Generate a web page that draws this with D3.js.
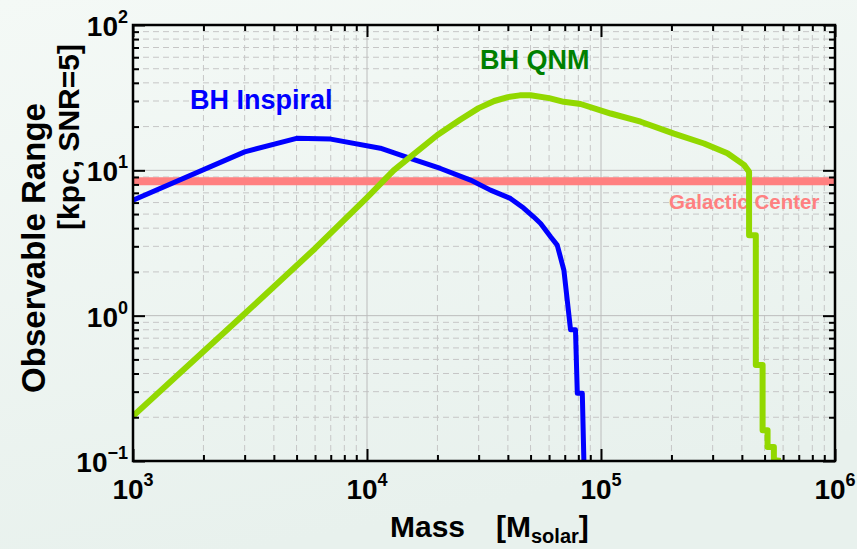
<!DOCTYPE html>
<html>
<head>
<meta charset="utf-8">
<script src="https://cdn.jsdelivr.net/npm/d3@7"></script>
<style>
    body { margin: 0; background: #eef5f1; }
    svg text { font-family: "Liberation Sans", Arial, sans-serif; font-weight: bold; }
</style>
</head>
<body>
<div id="chart"></div>
<script>
// BH inspiral range vs. mass
const inspiralMass  = [1000, 3000, 5000, 7000, 11400, 15300, 20600, 27700, 33700, 41000, 46700,
                       51500, 55200, 60900, 65000, 69400, 74100, 77800, 79200, 83200, 84500];
const inspiralRange = [6.24, 13.4, 16.6, 16.4, 14.2, 12.1, 10.3, 8.57, 7.31, 6.41, 5.50,
                       4.79, 4.31, 3.49, 3.06, 2.06, 0.80, 0.80, 0.292, 0.292, 0.1];

// BH quasi-normal mode range vs. mass
const qnmMass  = [1000, 3000, 6000, 10000, 13000, 20000, 25000, 30000, 35000, 40000, 45000, 50000,
                  60000, 69300, 81800, 110000, 147700, 205000, 275600, 346900, 408500, 429300,
                  429300, 458800, 458800, 490400, 490400, 515000, 515000, 548000, 548000, 586000];
const qnmRange = [0.204, 1.03, 2.9, 6.5, 10, 17.5, 22.3, 26.8, 30.0, 31.9, 32.8, 32.9,
                  31.4, 29.6, 28.6, 24.6, 21.6, 17.9, 15.3, 13.1, 10.9, 9.77,
                  3.58, 3.58, 0.457, 0.457, 0.163, 0.163, 0.125, 0.125, 0.1016, 0.1];

const galacticCenter = 8.4;

const xMajor = [1e3, 1e4, 1e5, 1e6];
const xExp = ["3", "4", "5", "6"];
const yMajor = [1e-1, 1e0, 1e1, 1e2];
const yExp = ["\u22121", "0", "1", "2"];

const minorsOf = majors => majors.slice(0, -1).flatMap(d => d3.range(2, 10).map(k => d * k));

function drawChart() {
    const W = 857, H = 549;
    const margin = {top: 25, right: 22, bottom: 88, left: 133},
        width = W - margin.left - margin.right,
        height = H - margin.top - margin.bottom;

    const svg = d3.select("#chart")
        .append("svg")
            .attr("width", W)
            .attr("height", H);

    const defs = svg.append("defs");
    const grad = defs.append("linearGradient")
        .attr("id", "bg")
        .attr("x1", "0").attr("y1", "0").attr("x2", "0.3").attr("y2", "1");
    grad.append("stop").attr("offset", "0").attr("stop-color", "#f4f9f6");
    grad.append("stop").attr("offset", "1").attr("stop-color", "#e8f1ed");

    defs.append("clipPath").attr("id", "plotclip")
        .append("rect").attr("width", width).attr("height", height);

    svg.append("rect")
        .attr("width", W).attr("height", H)
        .attr("fill", "url(#bg)");

    const g = svg.append("g")
        .attr("transform", "translate(" + margin.left + "," + margin.top + ")");

    const x = d3.scaleLog().domain([1e3, 1e6]).range([0, width]);
    const y = d3.scaleLog().domain([0.1, 100]).range([height, 0]);

    const xMinor = minorsOf(xMajor);
    const yMinor = minorsOf(yMajor);

    // grid
    g.selectAll(".vgrid-minor")
        .data(xMinor)
        .join("line")
            .attr("x1", d => x(d)).attr("x2", d => x(d))
            .attr("y1", 0).attr("y2", height)
            .attr("stroke", "#c6c6c6").attr("stroke-dasharray", "6,4");
    g.selectAll(".hgrid-minor")
        .data(yMinor)
        .join("line")
            .attr("y1", d => y(d)).attr("y2", d => y(d))
            .attr("x1", 0).attr("x2", width)
            .attr("stroke", "#c6c6c6").attr("stroke-dasharray", "6,4");
    g.selectAll(".vgrid")
        .data(xMajor)
        .join("line")
            .attr("x1", d => x(d)).attr("x2", d => x(d))
            .attr("y1", 0).attr("y2", height)
            .attr("stroke", "#bcbcbc");
    g.selectAll(".hgrid")
        .data(yMajor)
        .join("line")
            .attr("y1", d => y(d)).attr("y2", d => y(d))
            .attr("x1", 0).attr("x2", width)
            .attr("stroke", "#bcbcbc");

    // galactic center line
    g.append("line")
        .attr("x1", 0).attr("x2", width)
        .attr("y1", y(galacticCenter)).attr("y2", y(galacticCenter))
        .attr("stroke", "#ff8080")
        .attr("stroke-width", 8);

    g.append("text")
        .attr("x", 536).attr("y", 184)
        .style("font-size", "20.5px")
        .style("fill", "#ff8080")
        .text("Galactic Center");

    const line = d3.line()
        .x(d => x(d[0]))
        .y(d => y(d[1]));

    const curves = g.append("g").attr("clip-path", "url(#plotclip)");

    curves.append("path")
        .datum(d3.zip(inspiralMass, inspiralRange))
        .attr("d", line)
        .attr("fill", "none")
        .attr("stroke", "#0000ff")
        .attr("stroke-width", 5)
        .attr("stroke-linejoin", "round");

    curves.append("path")
        .datum(d3.zip(qnmMass, qnmRange))
        .attr("d", line)
        .attr("fill", "none")
        .attr("stroke", "#92d800")
        .attr("stroke-width", 6)
        .attr("stroke-linejoin", "round");

    // ticks on all four sides, pointing inward
    const tickAxis = (axisFn, scale, values, size, transform) => {
        const a = g.append("g")
            .attr("transform", transform)
            .call(axisFn(scale).tickValues(values).tickSizeInner(-size).tickSizeOuter(0).tickFormat(""));
        a.select(".domain").remove();
        a.selectAll(".tick line").attr("stroke", "#000").attr("stroke-width", 2);
    };
    tickAxis(d3.axisBottom, x, xMajor, 12, "translate(0," + height + ")");
    tickAxis(d3.axisBottom, x, xMinor, 6, "translate(0," + height + ")");
    tickAxis(d3.axisTop, x, xMajor, 12, "translate(0,0)");
    tickAxis(d3.axisTop, x, xMinor, 6, "translate(0,0)");
    tickAxis(d3.axisLeft, y, yMajor, 12, "translate(0,0)");
    tickAxis(d3.axisLeft, y, yMinor, 6, "translate(0,0)");
    tickAxis(d3.axisRight, y, yMajor, 12, "translate(" + width + ",0)");
    tickAxis(d3.axisRight, y, yMinor, 6, "translate(" + width + ",0)");

    // frame
    g.append("rect")
        .attr("width", width).attr("height", height)
        .attr("fill", "none")
        .attr("stroke", "#000")
        .attr("stroke-width", 2.5);

    // tick labels
    const xl = g.selectAll(".xlabel")
        .data(xMajor)
        .join("text")
            .attr("class", "xlabel")
            .attr("x", d => x(d))
            .attr("y", height + 38)
            .attr("text-anchor", "middle")
            .style("font-size", "28px")
            .style("fill", "#000");
    xl.append("tspan").text("10");
    xl.append("tspan").attr("dy", -13).style("font-size", "18px").text((d, i) => xExp[i]);

    const yl = g.selectAll(".ylabel")
        .data(yMajor)
        .join("text")
            .attr("class", "ylabel")
            .attr("x", -5)
            .attr("y", d => y(d) + 11)
            .attr("text-anchor", "end")
            .style("font-size", "28px")
            .style("fill", "#000");
    yl.append("tspan").text("10");
    yl.append("tspan").attr("dy", -13).style("font-size", "18px").text((d, i) => yExp[i]);

    // series labels
    g.append("text")
        .attr("x", 57).attr("y", 84)
        .style("font-size", "27px")
        .style("fill", "#0000ff")
        .text("BH Inspiral");

    g.append("text")
        .attr("x", 347).attr("y", 44)
        .style("font-size", "27px")
        .style("fill", "#008000")
        .text("BH QNM");

    // axis titles
    const xt = svg.append("text")
        .attr("x", 390).attr("y", 537)
        .style("font-size", "30px")
        .style("fill", "#000");
    xt.append("tspan").text("Mass");
    xt.append("tspan").attr("x", 496).text("[M");
    xt.append("tspan").attr("dy", 6).style("font-size", "20px").text("solar");
    xt.append("tspan").attr("dy", -6).text("]");

    svg.append("text")
        .attr("transform", "translate(45,248) rotate(-90)")
        .attr("text-anchor", "middle")
        .style("font-size", "33px")
        .style("fill", "#000")
        .text("Observable Range");

    svg.append("text")
        .attr("transform", "translate(79,137) rotate(-90)")
        .attr("text-anchor", "middle")
        .style("font-size", "30px")
        .style("fill", "#000")
        .text("[kpc, SNR=5]");
}

drawChart();
</script>
</body>
</html>
